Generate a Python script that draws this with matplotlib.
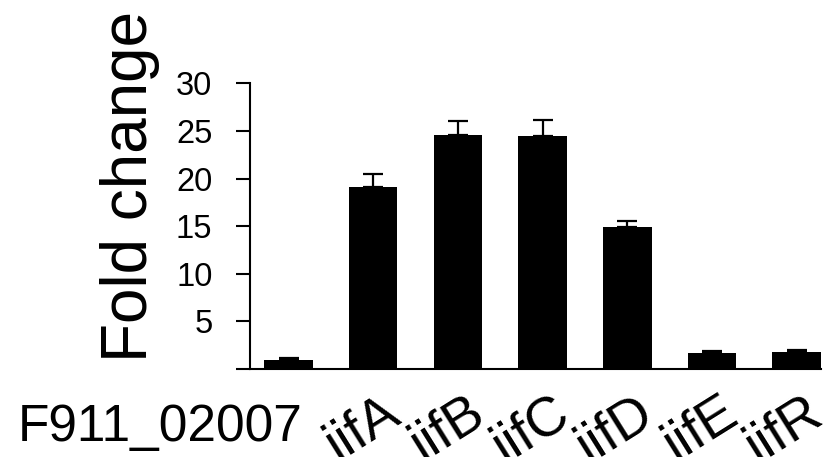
import numpy as np
import matplotlib
matplotlib.use('Agg')
import matplotlib.pyplot as plt

plt.rcParams['font.family'] = ['Liberation Sans', 'DejaVu Sans']

# data
genes = ['F911_02007', 'iifA', 'iifB', 'iifC', 'iifD', 'iifE', 'iifR']
fold = [0.95, 19.1, 24.6, 24.5, 14.9, 1.64, 1.78]
err = [0.25, 1.4, 1.5, 1.7, 0.7, 0.25, 0.25]
yticks = [0, 5, 10, 15, 20, 25, 30]
ytick_labels = ['', '5', '10', '15', '20', '25', '30']

fig = plt.figure(figsize=(8.3, 4.57), dpi=100)
ax = fig.add_axes([0.3012, 0.1926, 0.6878, 0.6247])

x = np.arange(len(genes))
ax.bar(x, fold, width=0.573, color='black', linewidth=0, zorder=2)
ax.errorbar(x, fold, yerr=[np.zeros(len(err)), err], fmt='none',
            ecolor='black', elinewidth=1.6, capsize=7.2, capthick=1.6, zorder=3)

ax.set_xlim(-0.455, len(genes) - 1 + 0.2866)
ax.set_ylim(0, 30)
ax.set_yticks(yticks)
ax.set_yticklabels(ytick_labels)
ax.set_xticks([])

for s in ['top', 'right']:
    ax.spines[s].set_visible(False)
for s in ['left', 'bottom']:
    ax.spines[s].set_linewidth(1.5)

ax.tick_params(axis='y', length=10, width=1.5, pad=17, labelsize=23.5)

ax.set_ylabel('Fold change', fontsize=46)
ax.yaxis.set_label_coords(-0.158, 0.639)

# x labels: first one flat, the rest slanted
for i, g in enumerate(genes):
    if i == 0:
        ax.annotate(g, xy=(i, 0), xycoords=('data', 'axes fraction'),
                    xytext=(10, -52), textcoords='offset points',
                    ha='right', va='baseline', fontsize=37,
                    annotation_clip=False)
    else:
        ax.annotate(g, xy=(i, 0), xycoords=('data', 'axes fraction'),
                    xytext=(21, -37), textcoords='offset points',
                    ha='right', va='baseline', rotation=32,
                    rotation_mode='anchor', fontsize=40,
                    annotation_clip=False)

fig.savefig('out.png', dpi=100)
